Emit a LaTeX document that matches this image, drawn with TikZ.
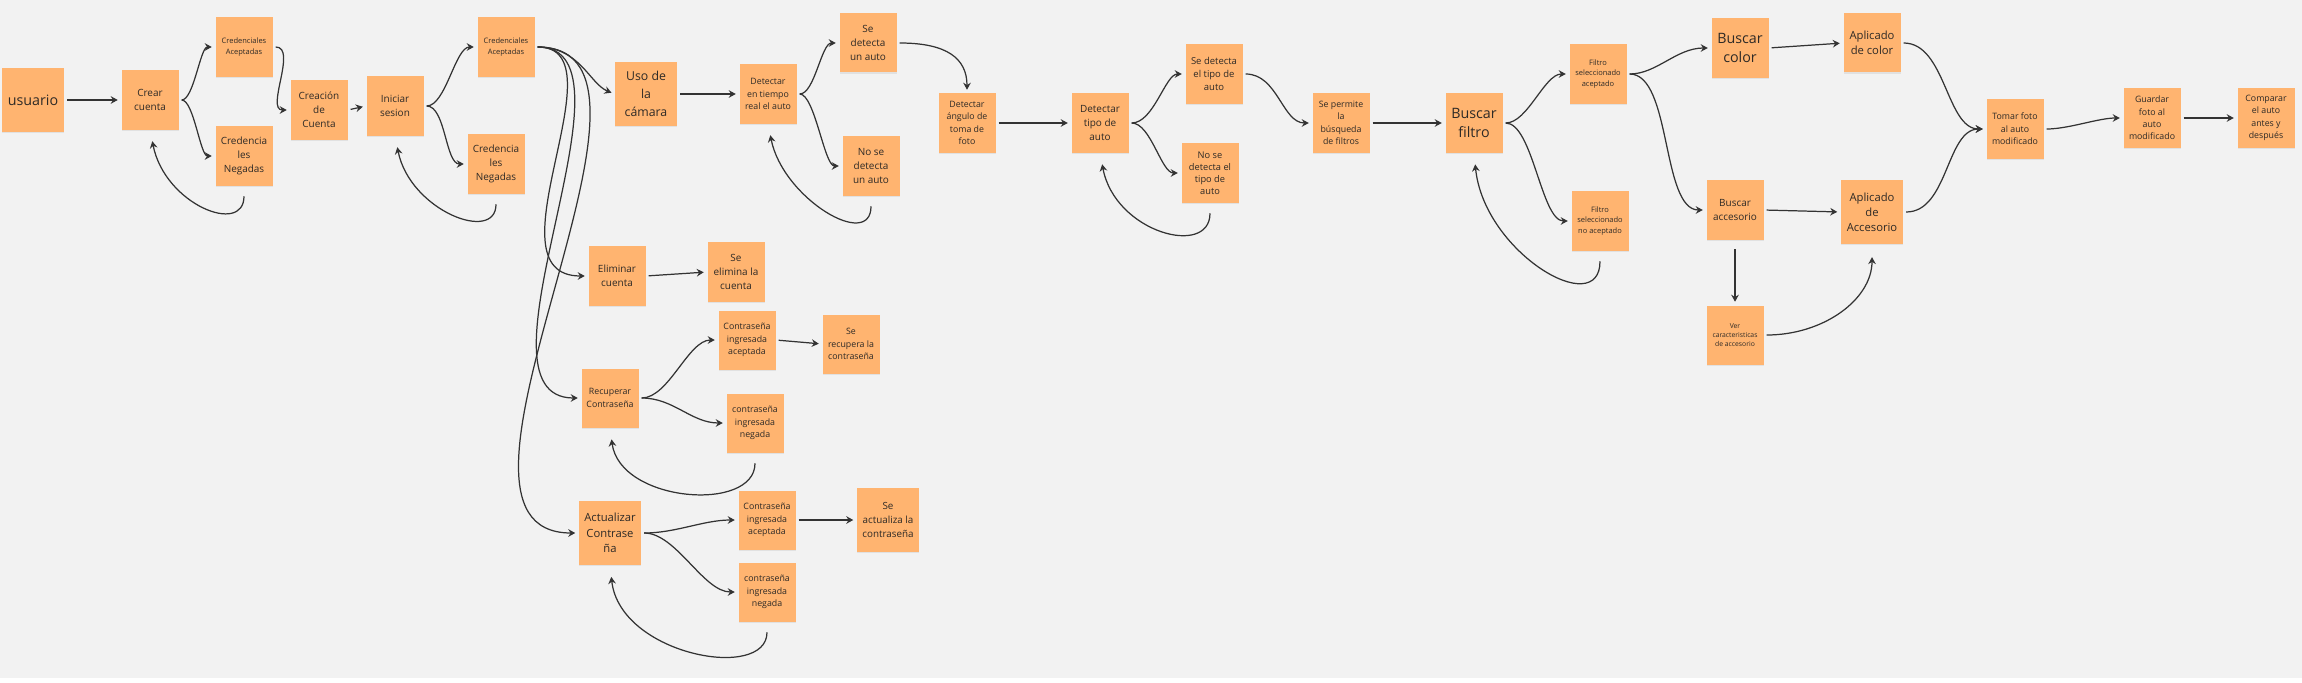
\documentclass[tikz,border=0pt]{standalone}
\usepackage{fontspec}
\setmainfont{Open Sans}
\usetikzlibrary{arrows.meta, shadows}

\definecolor{bgcol}{HTML}{F2F2F2}
\definecolor{notecol}{HTML}{FFB470}
\definecolor{inkcol}{HTML}{2E2A26}
\definecolor{wirecol}{HTML}{333333}

\newcommand{\fsz}[2]{\fontsize{#1}{#2}\selectfont}

\begin{document}
\begin{tikzpicture}[>={Stealth[length=6pt, width=6.5pt, inset=2pt]}, x=0.03cm, y=-0.03cm]
    \tikzset{note/.style={fill=notecol, text=inkcol, align=center, inner sep=1pt,
                 minimum width=1.71cm, minimum height=1.77cm, font=\fsz{8.5}{12},
                 drop shadow={shadow xshift=0.3pt, shadow yshift=-1pt, opacity=0.15}},
             bignote/.style={note, minimum width=1.86cm, minimum height=1.92cm},
             fhuge/.style={font=\fsz{12.2}{16.8}},
             flarge/.style={font=\fsz{10.5}{15.5}},
             fmid/.style={font=\fsz{9.6}{12.8}},
             fsmall/.style={font=\fsz{7.5}{10.6}},
             ftiny/.style={font=\fsz{6.4}{8.9}},
             fmicro/.style={font=\fsz{5.8}{8}},
             wire/.style={->, draw=wirecol, line width=1.05pt, shorten <=2.5pt, shorten >=3pt},
             back/.style={wire, shorten <=9pt, shorten >=10pt}}
    \fill[bgcol] (0,0) rectangle (2302,678);
    % Cuenta
    \node[bignote, fhuge] (usuario) at (33,100) {usuario};
    \node[note] (crear) at (150,100) {Crear\\cuenta};
    \node[note, ftiny] (credacep) at (244,47) {Credenciales\\Aceptadas};
    \node[note] (credneg) at (244,156) {Credencia\\les\\Negadas};
    \node[note] (creacion) at (319,110) {Creación\\de\\Cuenta};
    \node[note] (iniciar) at (395,106) {Iniciar\\sesion};
    \node[note, ftiny] (loginacep) at (506,47) {Credenciales\\Aceptadas};
    \node[note] (loginneg) at (496,164) {Credencia\\les\\Negadas};
    % Camara
    \node[bignote, flarge] (camara) at (646,94) {Uso de\\la\\cámara};
    \node[note, fsmall] (detreal) at (768,94) {Detectar\\en tiempo\\real el auto};
    \node[note] (siauto) at (868,43) {Se\\detecta\\un auto};
    \node[note] (noauto) at (871,166) {No se\\detecta\\un auto};
    \node[note, fsmall] (angulo) at (967,123) {Detectar\\ángulo de\\toma de\\foto};
    \node[note] (dettipo) at (1100,123) {Detectar\\tipo de\\auto};
    \node[note, font=\fsz{8.1}{11.1}] (sitipo) at (1214,74) {Se detecta\\el tipo de\\auto};
    \node[note, font=\fsz{7.9}{10.3}] (notipo) at (1210,173) {No se\\detecta el\\tipo de\\auto};
    \node[note, fsmall] (permite) at (1341,123) {Se permite\\la\\búsqueda\\de filtros};
    % Filtros
    \node[note, fhuge] (filtro) at (1474,123) {Buscar\\filtro};
    \node[note, ftiny] (filtroacep) at (1598,74) {Filtro\\seleccionado\\aceptado};
    \node[note, ftiny] (filtrono) at (1600,221) {Filtro\\seleccionado\\no aceptado};
    \node[note, fhuge] (color) at (1740,48) {Buscar\\color};
    \node[note] (accesorio) at (1735,210) {Buscar\\accesorio};
    \node[note, fmicro] (caract) at (1735,335) {Ver\\caracteristicas\\de accesorio};
    \node[note, fmid] (aplicolor) at (1872,43) {Aplicado\\de color};
    \node[bignote, fmid] (apliacc) at (1872,212) {Aplicado\\de\\Accesorio};
    \node[note, fsmall] (tomar) at (2015,129) {Tomar foto\\al auto\\modificado};
    \node[note, fsmall] (guardar) at (2152,118) {Guardar\\foto al\\auto\\modificado};
    \node[note, fsmall] (comparar) at (2266,118) {Comparar\\el auto\\antes y\\después};
    % Contraseña
    \node[note] (eliminar) at (617,276) {Eliminar\\cuenta};
    \node[note] (eliminada) at (736,272) {Se\\elimina la\\cuenta};
    \node[note, fsmall] (recuperar) at (610,398) {Recuperar\\Contraseña};
    \node[note, fsmall] (recacep) at (747,340) {Contraseña\\ingresada\\aceptada};
    \node[note, fsmall] (recupera) at (851,344) {Se\\recupera la\\contraseña};
    \node[note, fsmall] (recneg) at (755,423) {contraseña\\ingresada\\negada};
    \node[bignote, font=\fsz{9.6}{13}] (actualizar) at (610,533) {Actualizar\\Contrase\\ña};
    \node[note, fsmall] (actacep) at (767,520) {Contraseña\\ingresada\\aceptada};
    \node[bignote, font=\fsz{8.4}{12.2}] (actualiza) at (888,520) {Se\\actualiza la\\contraseña};
    \node[note, fsmall] (actneg) at (767,592) {contraseña\\ingresada\\negada};
    % Conectores cuenta
    \draw[wire] (usuario.east) -- (crear.west);
    \draw[wire] (crear.east) .. controls +(15,0) and +(-15,0) .. (credacep.west);
    \draw[wire] (crear.east) .. controls +(15,0) and +(-15,0) .. (credneg.west);
    \draw[back] (credneg.south) .. controls +(0,50) and +(15,75) .. (crear.south);
    \draw[wire] (credacep.east) .. controls +(25,0) and +(-25,0) .. (creacion.west);
    \draw[wire] (creacion.east) -- (iniciar.west);
    \draw[wire] (iniciar.east) .. controls +(22,0) and +(-22,0) .. (loginacep.west);
    \draw[wire] (iniciar.east) .. controls +(22,0) and +(-22,0) .. (loginneg.west);
    \draw[back] (loginneg.south) .. controls +(0,50) and +(15,75) .. (iniciar.south);
    \draw[wire] (loginacep.east) .. controls +(45,0) and +(-25,-10) .. (camara.west);
    \draw[wire] (loginacep.east) .. controls +(90,0) and +(-105,0) .. (eliminar.west);
    \draw[wire] (loginacep.east) .. controls +(115,0) and +(-120,0) .. (recuperar.west);
    \draw[wire] (loginacep.east) .. controls +(170,0) and +(-175,0) .. (actualizar.west);
    % Conectores camara
    \draw[wire] (camara.east) -- (detreal.west);
    \draw[wire] (detreal.east) .. controls +(18,0) and +(-18,0) .. (siauto.west);
    \draw[wire] (detreal.east) .. controls +(18,0) and +(-18,0) .. (noauto.west);
    \draw[back] (noauto.south) .. controls +(0,55) and +(15,75) .. (detreal.south);
    \draw[wire] (siauto.east) .. controls +(50,0) and +(0,-35) .. (angulo.north);
    \draw[wire] (angulo.east) -- (dettipo.west);
    \draw[wire] (dettipo.east) .. controls +(25,0) and +(-20,0) .. (sitipo.west);
    \draw[wire] (dettipo.east) .. controls +(22,0) and +(-20,0) .. (notipo.west);
    \draw[back] (notipo.south) .. controls +(0,55) and +(15,80) .. (dettipo.south);
    \draw[wire] (sitipo.east) .. controls +(35,0) and +(-30,0) .. (permite.west);
    \draw[wire] (permite.east) -- (filtro.west);
    % Conectores filtros
    \draw[wire] (filtro.east) .. controls +(25,0) and +(-25,0) .. (filtroacep.west);
    \draw[wire] (filtro.east) .. controls +(30,0) and +(-30,0) .. (filtrono.west);
    \draw[back] (filtrono.south) .. controls +(0,70) and +(10,100) .. (filtro.south);
    \draw[wire] (filtroacep.east) .. controls +(30,0) and +(-35,0) .. (color.west);
    \draw[wire] (filtroacep.east) .. controls +(45,0) and +(-45,0) .. (accesorio.west);
    \draw[wire] (color.east) -- (aplicolor.west);
    \draw[wire] (accesorio.east) -- (apliacc.west);
    \draw[wire, shorten <=8pt] (accesorio.south) -- (caract.north);
    \draw[wire, shorten >=11pt] (caract.east) .. controls +(60,0) and +(0,55) .. (apliacc.south);
    \draw[wire] (aplicolor.east) .. controls +(45,0) and +(-40,0) .. (tomar.west);
    \draw[wire] (apliacc.east) .. controls +(45,0) and +(-40,0) .. (tomar.west);
    \draw[wire] (tomar.east) .. controls +(25,0) and +(-25,0) .. (guardar.west);
    \draw[wire] (guardar.east) -- (comparar.west);
    % Conectores contraseña
    \draw[wire] (eliminar.east) -- (eliminada.west);
    \draw[wire] (recuperar.east) .. controls +(30,0) and +(-30,0) .. (recacep.west);
    \draw[wire] (recuperar.east) .. controls +(35,0) and +(-35,0) .. (recneg.west);
    \draw[wire] (recacep.east) -- (recupera.west);
    \draw[back] (recneg.south) .. controls +(0,60) and +(10,75) .. (recuperar.south);
    \draw[wire] (actualizar.east) .. controls +(35,0) and +(-35,0) .. (actacep.west);
    \draw[wire] (actualizar.east) .. controls +(35,0) and +(-35,0) .. (actneg.west);
    \draw[wire] (actacep.east) -- (actualiza.west);
    \draw[back] (actneg.south) .. controls +(0,60) and +(10,90) .. (actualizar.south);
\end{tikzpicture}
\end{document}
